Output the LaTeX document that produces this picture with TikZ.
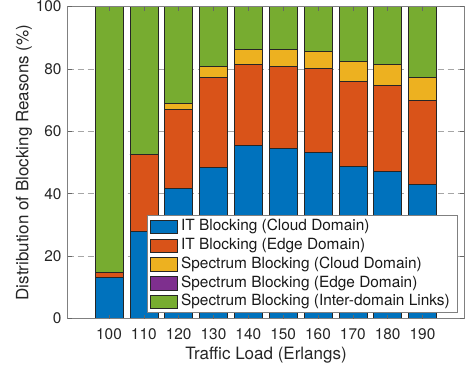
\documentclass[tikz,border=0pt]{standalone}
\usepackage{fontspec}
\setmainfont{TeX Gyre Heros}
\usetikzlibrary{positioning}

\definecolor{itcloud}{rgb}{0,0.447,0.741}
\definecolor{itedge}{rgb}{0.85,0.325,0.098}
\definecolor{spcloud}{rgb}{0.929,0.694,0.125}
\definecolor{spedge}{rgb}{0.494,0.184,0.556}
\definecolor{spinter}{rgb}{0.466,0.674,0.188}

\begin{document}
\begin{tikzpicture}[
    x=34.83pt, y=3.12pt,
    font=\fontsize{15.4}{18}\selectfont,
    gridline/.style={black!35, dash pattern=on 6pt off 4pt, line width=0.5pt},
    seg/.style={draw=black!85, line width=0.5pt},
    frame/.style={draw=black!50, line width=0.6pt},
    axtick/.style={black!60, line width=0.5pt},
    ticklabel/.style={text=black!85, inner sep=0pt},
    axlabel/.style={text=black!85, inner sep=0pt, font=\fontsize{17}{20}\selectfont},
    legbox/.style={draw=black!85, line width=0.5pt, minimum width=27.7pt, minimum height=13.3pt, inner sep=0pt},
    legtext/.style={inner sep=0pt, text=black!90}
]
\useasboundingbox (-67.7pt,-49.5pt) rectangle (398.3pt,318.5pt);

% Grid
\foreach \v in {20,40,60,80}
    \draw [gridline] (0,\v) -- (11.387,\v);

% Bars (cumulative tops: IT cloud / IT edge / spectrum cloud)
\foreach \i/\a/\b/\c in {1/13.2/14.8/14.8, 2/28.1/52.7/52.7, 3/41.6/67.1/69.1,
        4/48.5/77.3/80.9, 5/55.5/81.6/86.3, 6/54.5/81.0/86.3, 7/53.3/80.1/85.8,
        8/48.8/76.0/82.3, 9/47.2/74.7/81.5, 10/43.1/70.0/77.2} {
    \pgfmathsetmacro\xc{0.186+\i}
    \draw [seg, fill=itcloud] (\xc-0.4,0) rectangle (\xc+0.4,\a);
    \draw [seg, fill=itedge] (\xc-0.4,\a) rectangle (\xc+0.4,\b);
    \draw [seg, fill=spcloud] (\xc-0.4,\b) rectangle (\xc+0.4,\c);
    \draw [seg, fill=spinter] (\xc-0.4,\c) rectangle (\xc+0.4,100);
}

% Axes box and ticks
\draw [frame] (0,0) rectangle (11.387,100);
\foreach \v in {0,20,...,100} {
    \draw [axtick] (0,\v) -- ++(4pt,0);
    \draw [axtick] (11.387,\v) -- ++(-4pt,0);
    \node (yt\v) [ticklabel, anchor=east] at ([xshift=-6pt]0,\v) {\v};
}
\foreach \i in {1,...,10} {
    \pgfmathsetmacro\xc{0.186+\i}
    \pgfmathtruncatemacro\load{90+10*\i}
    \draw [axtick] (\xc,0) -- ++(0,4pt);
    \draw [axtick] (\xc,100) -- ++(0,-4pt);
    \node (xt\i) [ticklabel, anchor=base] at ([yshift=-20.8pt]\xc,0) {\load};
}

% Axis labels
\node (xlab) [axlabel, anchor=base] at (198.3pt,-40.8pt) {Traffic Load (Erlangs)};
\node (ylab) [axlabel, anchor=base, rotate=90] at (-39.4pt,156pt) {Distribution of Blocking Reasons (\%)};

% Legend
\draw [frame, fill=white] (79.6pt,6pt) rectangle (390pt,102.8pt);
\node (lb1) [legbox, fill=itcloud] at (96.15pt,91.8pt) {};
\node (lb2) [legbox, fill=itedge] at (96.15pt,73pt) {};
\node (lb3) [legbox, fill=spcloud] at (96.15pt,54.2pt) {};
\node (lb4) [legbox, fill=spedge] at (96.15pt,35.4pt) {};
\node (lb5) [legbox, fill=spinter] at (96.15pt,16.6pt) {};
\node (lt1) [legtext, right=3pt of lb1] {IT Blocking (Cloud Domain)};
\node (lt2) [legtext, right=3pt of lb2] {IT Blocking (Edge Domain)};
\node (lt3) [legtext, right=3pt of lb3] {Spectrum Blocking (Cloud Domain)};
\node (lt4) [legtext, right=3pt of lb4] {Spectrum Blocking (Edge Domain)};
\node (lt5) [legtext, right=3pt of lb5] {Spectrum Blocking (Inter-domain Links)};

\end{tikzpicture}
\end{document}
